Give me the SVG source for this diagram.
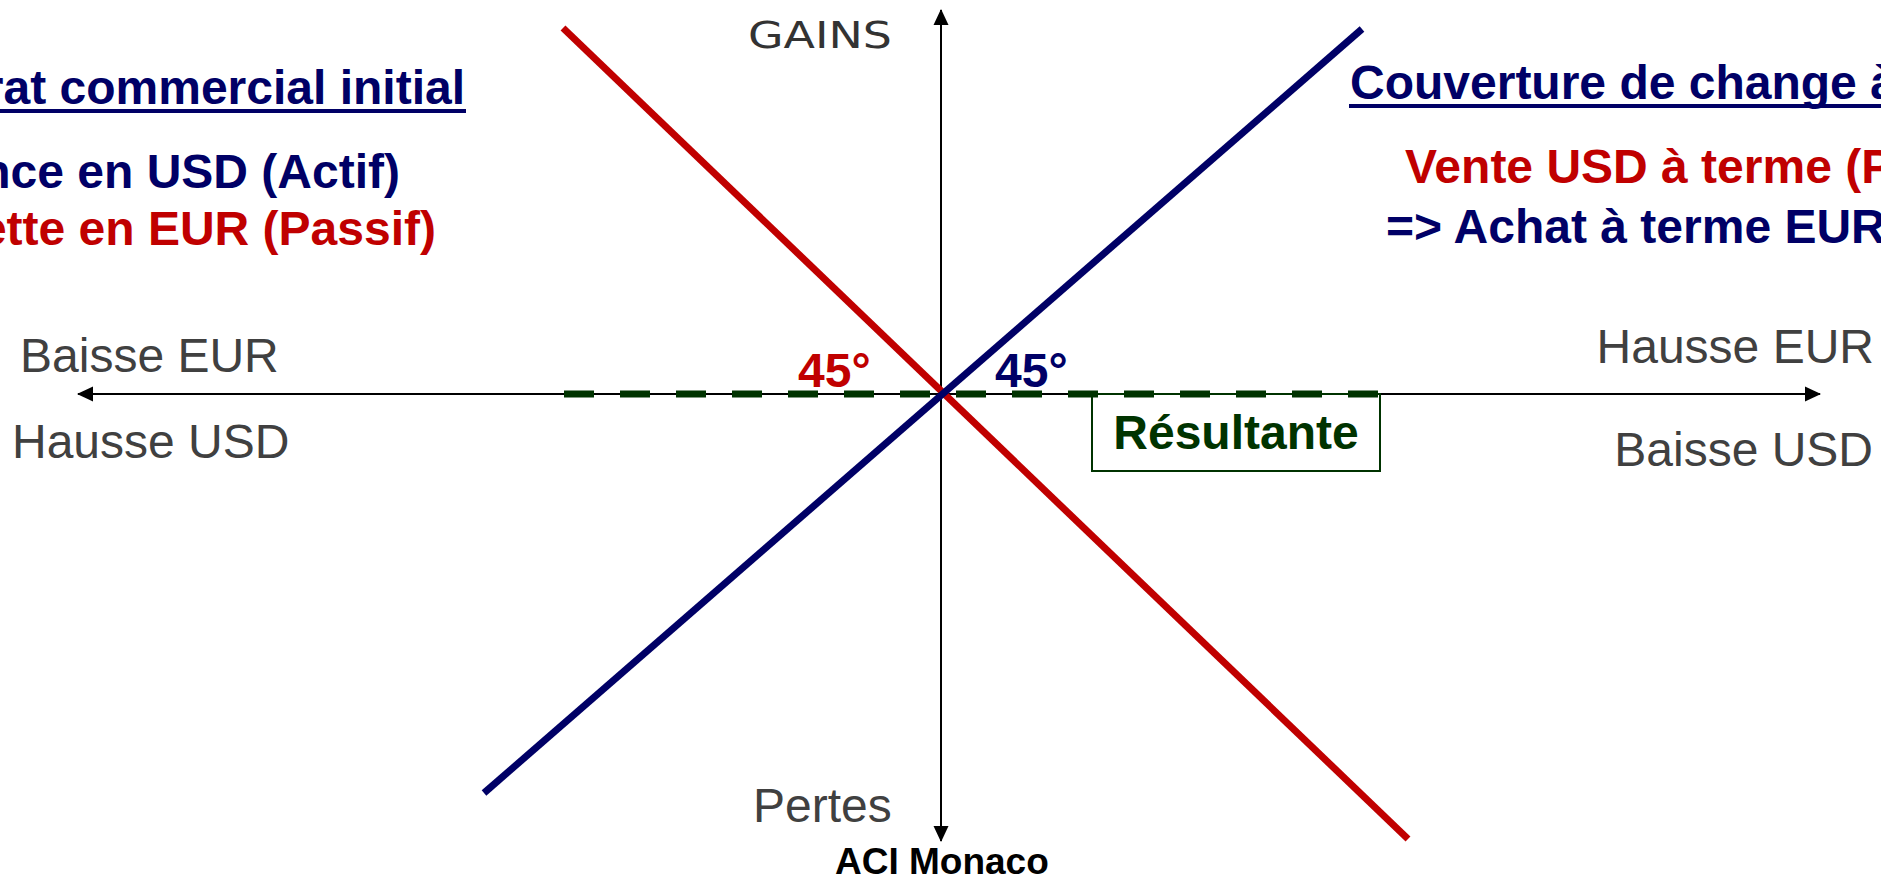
<svg xmlns="http://www.w3.org/2000/svg" width="1881" height="879" viewBox="0 0 1881 879">
<style>
.b{font-family:"Liberation Sans",Arial,sans-serif;font-weight:bold;font-size:48px}
.g{font-family:"Liberation Sans",Arial,sans-serif;font-size:48px;fill:#404040}
.navy{fill:#000066}
.red{fill:#C00000}
.green{fill:#003300}
</style>
<defs>
<marker id="ah" markerUnits="userSpaceOnUse" markerWidth="16" markerHeight="16" viewBox="0 0 16 16" refX="15" refY="8" orient="auto">
<path d="M0,0.5 L16,8 L0,15.5 Z" fill="#000"/>
</marker>
</defs>
<rect width="1881" height="879" fill="#fff"/>
<g id="connectors">
<line id="axis-x-left" x1="941" y1="394" x2="78" y2="394" stroke="#000" stroke-width="2" marker-end="url(#ah)"/>
<line id="axis-x-right" x1="941" y1="394" x2="1820" y2="394" stroke="#000" stroke-width="2" marker-end="url(#ah)"/>
<line id="axis-y-up" x1="941" y1="394" x2="941" y2="10" stroke="#000" stroke-width="2" marker-end="url(#ah)"/>
<line id="axis-y-down" x1="941" y1="394" x2="941" y2="841" stroke="#000" stroke-width="2" marker-end="url(#ah)"/>
<line id="resultante-line" x1="564" y1="394" x2="1379" y2="394" stroke="#003300" stroke-width="7" stroke-dasharray="30 26"/>
<line id="red-line" x1="563" y1="28" x2="1408" y2="839" stroke="#C00000" stroke-width="7"/>
<line id="blue-line" x1="1362" y1="29" x2="484" y2="793" stroke="#000066" stroke-width="7"/>
</g>
<g id="title-left">
<text class="b navy" x="465" y="104" text-anchor="end">rat commercial initial</text>
<rect x="0" y="109" width="466" height="4" fill="#000066"/>
</g>
<g id="left-lines">
<text class="b navy" x="400" y="188" text-anchor="end">nce en USD (Actif)</text>
<text class="b red" x="436" y="245" text-anchor="end">ette en EUR (Passif)</text>
</g>
<g id="title-right">
<text class="b navy" x="1350" y="99">Couverture de change à</text>
<rect x="1349" y="104" width="532" height="4" fill="#000066"/>
</g>
<g id="right-lines">
<text class="b red" x="1405" y="183">Vente USD à terme (P</text>
<text class="b navy" x="1386" y="243">=&gt; Achat à terme EUR</text>
</g>
<g id="gains">
<text x="748" y="48" font-family="'DejaVu Sans',sans-serif" font-size="38" fill="#333" textLength="144" lengthAdjust="spacingAndGlyphs">GAINS</text>
</g>
<g id="pertes">
<text class="g" x="753" y="822" font-size="46">Pertes</text>
</g>
<g id="left-labels">
<text class="g" x="20" y="372">Baisse EUR</text>
<text class="g" x="12" y="458">Hausse USD</text>
</g>
<g id="right-labels">
<text class="g" x="1874" y="363" text-anchor="end">Hausse EUR</text>
<text class="g" x="1873" y="466" text-anchor="end">Baisse USD</text>
</g>
<g id="angle-red">
<text class="b red" x="798" y="387" font-size="47">45°</text>
</g>
<g id="angle-blue">
<text class="b navy" x="995" y="387" font-size="47">45°</text>
</g>
<g id="resultante">
<rect x="1092" y="394" width="288" height="77" fill="none" stroke="#003300" stroke-width="2"/>
<text class="b green" x="1236" y="449" font-size="48" text-anchor="middle">Résultante</text>
</g>
<g id="footer">
<text x="835" y="874" font-family="'Liberation Sans',Arial,sans-serif" font-weight="bold" font-size="37" fill="#000">ACI Monaco</text>
</g>
</svg>
